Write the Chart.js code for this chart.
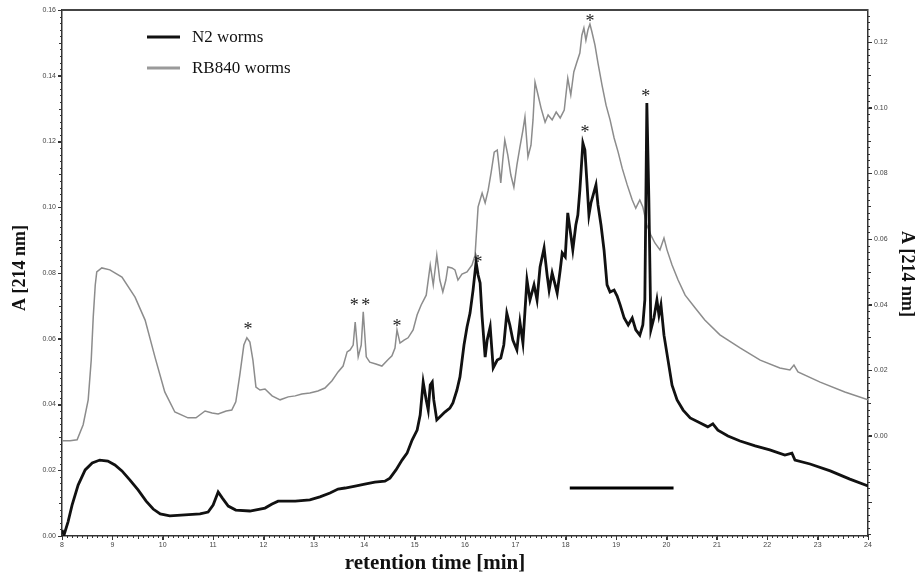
<!DOCTYPE html>
<html>
<head>
<meta charset="utf-8">
<script src="https://cdn.jsdelivr.net/npm/chart.js@4.4.1/dist/chart.umd.min.js"></script>
<style>
  body { margin: 0; background: #fff; }
  #wrap { width: 922px; height: 583px; }
</style>
</head>
<body>
<div id="wrap"><canvas id="chart" width="922" height="583"></canvas></div>
<script>
// N2 worms (left axis, A 214 nm)
const n2Times = [8.00, 8.04, 8.12, 8.20, 8.32, 8.46, 8.60, 8.75, 8.91, 9.05, 9.19, 9.35, 9.51, 9.67, 9.81, 9.95,
  10.14, 10.44, 10.74, 10.90, 11.00, 11.10, 11.18, 11.30, 11.45, 11.73, 12.03, 12.17, 12.29, 12.63, 12.92,
  13.12, 13.32, 13.48, 13.62, 13.82, 14.01, 14.21, 14.41, 14.51, 14.63, 14.75, 14.85, 14.95, 15.05, 15.11,
  15.17, 15.23, 15.27, 15.31, 15.35, 15.38, 15.44, 15.52, 15.60, 15.70, 15.76, 15.84, 15.90, 15.98, 16.04,
  16.10, 16.16, 16.22, 16.26, 16.30, 16.34, 16.40, 16.44, 16.50, 16.56, 16.64, 16.71, 16.77, 16.83, 16.89,
  16.95, 17.03, 17.09, 17.15, 17.23, 17.29, 17.37, 17.43, 17.49, 17.57, 17.63, 17.67, 17.73, 17.79, 17.83,
  17.89, 17.93, 17.99, 18.04, 18.10, 18.14, 18.20, 18.24, 18.28, 18.34, 18.38, 18.42, 18.46, 18.50, 18.56,
  18.60, 18.64, 18.70, 18.76, 18.82, 18.88, 18.96, 19.02, 19.08, 19.16, 19.24, 19.32, 19.39, 19.47, 19.53,
  19.57, 19.61, 19.65, 19.69, 19.75, 19.81, 19.85, 19.89, 19.95, 20.03, 20.11, 20.21, 20.33, 20.47, 20.67,
  20.82, 20.92, 21.02, 21.22, 21.46, 21.76, 22.05, 22.35, 22.49, 22.55, 22.85, 23.25, 23.64, 24.00];
const n2Values = [0.0018, 0.0003, 0.0043, 0.0094, 0.0155, 0.0201, 0.0222, 0.0231, 0.0228, 0.0216, 0.0198, 0.0170, 0.0140, 0.0106, 0.0082, 0.0067,
  0.0061, 0.0064, 0.0067, 0.0073, 0.0094, 0.0134, 0.0116, 0.0091, 0.0079, 0.0076, 0.0085, 0.0097, 0.0106, 0.0106, 0.0110,
  0.0119, 0.0131, 0.0143, 0.0146, 0.0152, 0.0158, 0.0164, 0.0167, 0.0176, 0.0201, 0.0231, 0.0252, 0.0292, 0.0322, 0.0368,
  0.0468, 0.0414, 0.0383, 0.0459, 0.0468, 0.0414, 0.0353, 0.0365, 0.0377, 0.0389, 0.0405, 0.0444, 0.0484, 0.0581, 0.0636,
  0.0678, 0.0748, 0.0833, 0.0794, 0.0770, 0.0666, 0.0544, 0.0596, 0.0636, 0.0511, 0.0535, 0.0541, 0.0581, 0.0678, 0.0642,
  0.0596, 0.0566, 0.0651, 0.0587, 0.0779, 0.0718, 0.0764, 0.0718, 0.0818, 0.0876, 0.0794, 0.0748, 0.0800, 0.0764, 0.0739,
  0.0809, 0.0861, 0.0849, 0.0983, 0.0916, 0.0870, 0.0946, 0.0976, 0.1052, 0.1195, 0.1174, 0.1077, 0.0976, 0.1013, 0.1046,
  0.1068, 0.1007, 0.0946, 0.0870, 0.0764, 0.0742, 0.0748, 0.0730, 0.0703, 0.0663, 0.0642, 0.0663, 0.0627, 0.0611, 0.0642,
  0.0718, 0.1317, 0.1022, 0.0627, 0.0663, 0.0718, 0.0672, 0.0703, 0.0611, 0.0535, 0.0459, 0.0414, 0.0383, 0.0359, 0.0344,
  0.0332, 0.0341, 0.0322, 0.0304, 0.0289, 0.0274, 0.0262, 0.0246, 0.0252, 0.0231, 0.0219, 0.0198, 0.0173, 0.0152];

// RB840 worms (right axis, A 214 nm)
const rbTimes = [8.00, 8.16, 8.30, 8.42, 8.52, 8.58, 8.62, 8.66, 8.69, 8.79, 8.95, 9.19, 9.45, 9.65, 9.85, 10.04,
  10.24, 10.50, 10.66, 10.84, 10.98, 11.10, 11.26, 11.37, 11.45, 11.53, 11.61, 11.67, 11.73, 11.79, 11.85,
  11.93, 12.03, 12.17, 12.33, 12.49, 12.63, 12.76, 12.92, 13.08, 13.22, 13.36, 13.48, 13.58, 13.66, 13.72,
  13.78, 13.82, 13.88, 13.94, 13.98, 14.04, 14.11, 14.23, 14.35, 14.47, 14.55, 14.61, 14.65, 14.71, 14.79,
  14.87, 14.97, 15.05, 15.13, 15.23, 15.27, 15.31, 15.37, 15.44, 15.50, 15.56, 15.62, 15.66, 15.74, 15.80,
  15.86, 15.94, 16.04, 16.14, 16.20, 16.26, 16.30, 16.34, 16.40, 16.46, 16.52, 16.58, 16.64, 16.68, 16.71,
  16.75, 16.79, 16.85, 16.91, 16.97, 17.03, 17.09, 17.15, 17.19, 17.25, 17.31, 17.35, 17.39, 17.45, 17.51,
  17.59, 17.65, 17.73, 17.81, 17.89, 17.97, 18.04, 18.10, 18.16, 18.22, 18.28, 18.32, 18.36, 18.40, 18.44,
  18.48, 18.52, 18.58, 18.64, 18.72, 18.80, 18.88, 18.96, 19.04, 19.12, 19.22, 19.32, 19.39, 19.47, 19.53,
  19.61, 19.69, 19.77, 19.87, 19.95, 20.01, 20.11, 20.23, 20.37, 20.57, 20.76, 21.06, 21.46, 21.86, 22.25,
  22.45, 22.53, 22.61, 23.05, 23.54, 24.00];
const rbValues = [-0.0015, -0.0015, -0.0012, 0.0034, 0.0110, 0.0231, 0.0362, 0.0460, 0.0500, 0.0512, 0.0506, 0.0484, 0.0423, 0.0353, 0.0238, 0.0134,
  0.0073, 0.0055, 0.0055, 0.0076, 0.0070, 0.0067, 0.0076, 0.0079, 0.0104, 0.0186, 0.0277, 0.0299, 0.0286, 0.0231, 0.0149,
  0.0140, 0.0143, 0.0122, 0.0110, 0.0119, 0.0122, 0.0128, 0.0131, 0.0137, 0.0146, 0.0168, 0.0195, 0.0213, 0.0256, 0.0262,
  0.0277, 0.0347, 0.0241, 0.0277, 0.0378, 0.0241, 0.0225, 0.0219, 0.0213, 0.0232, 0.0244, 0.0268, 0.0323, 0.0283, 0.0292,
  0.0299, 0.0323, 0.0369, 0.0399, 0.0429, 0.0475, 0.0521, 0.0460, 0.0551, 0.0475, 0.0439, 0.0475, 0.0515, 0.0512, 0.0506,
  0.0475, 0.0493, 0.0500, 0.0521, 0.0551, 0.0698, 0.0719, 0.0740, 0.0710, 0.0749, 0.0804, 0.0865, 0.0871, 0.0816, 0.0771,
  0.0841, 0.0902, 0.0856, 0.0795, 0.0758, 0.0825, 0.0880, 0.0932, 0.0972, 0.0850, 0.0886, 0.0963, 0.1078, 0.1039, 0.0999,
  0.0956, 0.0978, 0.0963, 0.0987, 0.0969, 0.0993, 0.1090, 0.1039, 0.1109, 0.1139, 0.1167, 0.1221, 0.1243, 0.1206, 0.1237,
  0.1255, 0.1231, 0.1191, 0.1136, 0.1069, 0.1008, 0.0963, 0.0908, 0.0865, 0.0816, 0.0765, 0.0719, 0.0694, 0.0719, 0.0698,
  0.0643, 0.0612, 0.0588, 0.0567, 0.0603, 0.0567, 0.0521, 0.0475, 0.0429, 0.0390, 0.0353, 0.0308, 0.0268, 0.0231, 0.0207,
  0.0201, 0.0216, 0.0195, 0.0164, 0.0134, 0.0110];

// asterisks marking peaks (left-axis units)
const starTimes = [11.69, 13.80, 14.03, 14.65, 16.26, 18.48, 18.38, 19.59];
const starValues = [0.0642, 0.0715, 0.0715, 0.0651, 0.0846, 0.1579, 0.1241, 0.1351];

// horizontal scale bar
const barTimes = [18.08, 20.14];
const barValue = 0.0146;

const leftTicks = [0, 0.02, 0.04, 0.06, 0.08, 0.10, 0.12, 0.14, 0.16];
const rightTicks = [0, 0.02, 0.04, 0.06, 0.08, 0.10, 0.12];

const serif = "'Liberation Serif', 'Times New Roman', serif";

const extras = {
  id: "extras",
  afterDraw(chart) {
    const ctx = chart.ctx;
    const x = chart.scales.x, y = chart.scales.y, y2 = chart.scales.y2;
    const area = chart.chartArea;
    ctx.save();

    // minor ticks
    ctx.strokeStyle = "#333";
    ctx.lineWidth = 1;
    ctx.beginPath();
    for (let i = 0; i <= 160; i++) {
      const px = Math.round(x.getPixelForValue(8 + i / 10)) + 0.5;
      const len = i % 10 === 0 ? 4 : (i % 5 === 0 ? 3 : 2);
      ctx.moveTo(px, area.bottom);
      ctx.lineTo(px, area.bottom + len);
    }
    for (let i = 0; i <= 80; i++) {
      const py = Math.round(y.getPixelForValue(i * 0.002)) + 0.5;
      const len = i % 10 === 0 ? 4 : (i % 5 === 0 ? 3 : 2);
      ctx.moveTo(area.left - len, py);
      ctx.lineTo(area.left, py);
    }
    for (let i = -15; i <= 64; i++) {
      const py = Math.round(y2.getPixelForValue(i * 0.002)) + 0.5;
      const len = i % 10 === 0 ? 4 : (i % 5 === 0 ? 3 : 2);
      ctx.moveTo(area.right, py);
      ctx.lineTo(area.right + len, py);
    }
    ctx.stroke();

    // top frame line
    ctx.strokeStyle = "#444";
    ctx.lineWidth = 2;
    ctx.beginPath();
    ctx.moveTo(area.left, area.top);
    ctx.lineTo(area.right, area.top);
    ctx.stroke();

    // asterisks
    ctx.fillStyle = "#222";
    ctx.font = "18px " + serif;
    ctx.textAlign = "center";
    ctx.textBaseline = "alphabetic";
    starTimes.forEach((t, i) => {
      ctx.fillText("*", x.getPixelForValue(t), y.getPixelForValue(starValues[i]) + 10);
    });

    // legend
    ctx.lineWidth = 3;
    ctx.strokeStyle = "#111";
    ctx.beginPath(); ctx.moveTo(147, 37); ctx.lineTo(180, 37); ctx.stroke();
    ctx.strokeStyle = "#9a9a9a";
    ctx.beginPath(); ctx.moveTo(147, 68); ctx.lineTo(180, 68); ctx.stroke();
    ctx.fillStyle = "#111";
    ctx.font = "17px " + serif;
    ctx.textAlign = "left";
    ctx.textBaseline = "middle";
    ctx.fillText("N2 worms", 192, 38);
    ctx.fillText("RB840 worms", 192, 69);

    // axis titles
    ctx.font = "bold 21px " + serif;
    ctx.textAlign = "center";
    ctx.fillText("retention time [min]", 435, 564);

    ctx.font = "bold 18px " + serif;
    ctx.save();
    ctx.translate(20, 268);
    ctx.rotate(-Math.PI / 2);
    ctx.fillText("A [214 nm]", 0, 0);
    ctx.restore();

    ctx.save();
    ctx.translate(907, 274);
    ctx.rotate(Math.PI / 2);
    ctx.fillText("A [214 nm]", 0, 0);
    ctx.restore();

    ctx.restore();
  }
};

const tickFont = { family: "'Liberation Sans', Arial, sans-serif", size: 7 };

new Chart(document.getElementById("chart"), {
  type: "line",
  data: {
    datasets: [
      {
        label: "N2 worms",
        data: n2Times.map((t, i) => ({ x: t, y: n2Values[i] })),
        borderColor: "#111",
        borderWidth: 2.8,
        pointRadius: 0,
        yAxisID: "y"
      },
      {
        label: "RB840 worms",
        data: rbTimes.map((t, i) => ({ x: t, y: rbValues[i] })),
        borderColor: "#8c8c8c",
        borderWidth: 1.5,
        pointRadius: 0,
        yAxisID: "y2"
      },
      {
        label: "bar",
        data: barTimes.map(t => ({ x: t, y: barValue })),
        borderColor: "#000",
        borderWidth: 3,
        pointRadius: 0,
        yAxisID: "y"
      }
    ]
  },
  options: {
    responsive: false,
    animation: false,
    devicePixelRatio: 1,
    layout: { padding: { top: 10, left: 0, right: 0, bottom: 0 } },
    plugins: { legend: { display: false }, tooltip: { enabled: false } },
    scales: {
      x: {
        type: "linear",
        min: 8,
        max: 24,
        ticks: { stepSize: 1, font: tickFont, color: "#444", padding: 1, maxRotation: 0 },
        grid: { drawOnChartArea: false, tickLength: 4, color: "#333" },
        border: { color: "#333", width: 1.5 },
        afterFit: s => { s.height = 47; }
      },
      y: {
        position: "left",
        min: 0,
        max: 0.16,
        afterBuildTicks: s => { s.ticks = leftTicks.map(v => ({ value: v })); },
        ticks: { font: tickFont, color: "#444", padding: 2, callback: v => v.toFixed(2) },
        grid: { drawOnChartArea: false, tickLength: 4, color: "#333" },
        border: { color: "#333", width: 1.5 },
        afterFit: s => { s.width = 62; }
      },
      y2: {
        position: "right",
        min: -0.0305,
        max: 0.1298,
        afterBuildTicks: s => { s.ticks = rightTicks.map(v => ({ value: v })); },
        ticks: { font: tickFont, color: "#444", padding: 2, callback: v => v.toFixed(2) },
        grid: { drawOnChartArea: false, tickLength: 4, color: "#333" },
        border: { color: "#333", width: 1.5 },
        afterFit: s => { s.width = 54; }
      }
    }
  },
  plugins: [extras]
});
</script>
</body>
</html>
